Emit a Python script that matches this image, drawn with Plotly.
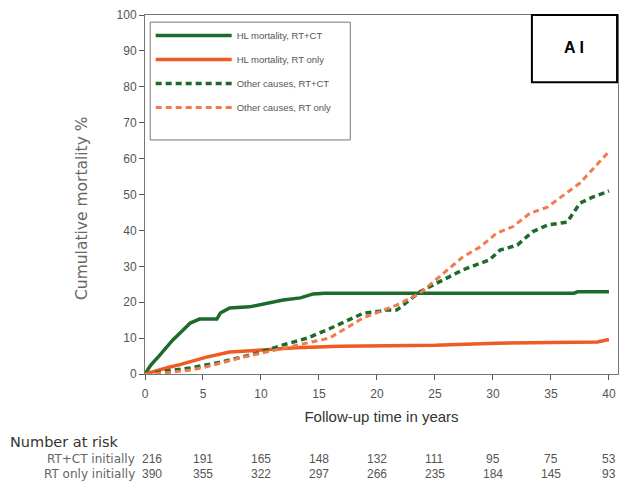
import plotly.graph_objects as go

# HL mortality, RT+CT
hl_ct_t = [0, 0.5, 1.2, 2.4, 3.2, 3.9, 4.7, 6.2, 6.5, 7.3, 9.0, 10.5, 11.9, 13.4, 14.5, 15.5, 20, 25, 30, 37.0, 37.3, 40]
hl_ct_v = [0, 2.5, 5.0, 9.5, 12.0, 14.2, 15.3, 15.3, 17.0, 18.4, 18.7, 19.8, 20.6, 21.2, 22.3, 22.5, 22.5, 22.5, 22.5, 22.5, 22.9, 22.9]
# HL mortality, RT only
hl_rt_t = [0, 1, 2, 3, 4, 5.3, 7.3, 9.7, 13, 16.8, 20, 25, 30.3, 35, 39, 40]
hl_rt_v = [0, 1.0, 1.8, 2.6, 3.5, 4.7, 6.1, 6.7, 7.3, 7.7, 7.8, 8.0, 8.6, 8.8, 8.9, 9.6]
# Other causes, RT+CT
oc_ct_t = [0, 2, 3.9, 6.7, 9.7, 11.9, 14, 15.9, 18.8, 20.9, 21.7, 23.7, 26, 27.4, 29.7, 30.6, 32.1, 33.4, 34.7, 36.4, 37.5, 38.6, 39.8, 40]
oc_ct_v = [0, 0.8, 1.7, 3.4, 5.8, 8.1, 10.0, 12.6, 16.9, 17.8, 17.8, 22.9, 26.7, 29.0, 31.8, 34.5, 35.9, 39.6, 41.5, 42.3, 47.6, 49.3, 50.7, 51.0]
# Other causes, RT only
oc_rt_t = [0, 2, 3.9, 5.3, 8.2, 11.9, 15.9, 18.8, 21.7, 23.7, 27.4, 28.9, 30.3, 31.7, 33.2, 34.7, 37.5, 39.9, 40]
oc_rt_v = [0, 0.4, 1.1, 2.0, 4.5, 7.2, 10.0, 15.6, 19.2, 22.5, 32.6, 35.4, 39.2, 41.0, 44.8, 46.5, 53.2, 61.6, 61.8]

# Number at risk
risk_t = [0, 5, 10, 15, 20, 25, 30, 35, 40]
risk_ct = [216, 191, 165, 148, 132, 111, 95, 75, 53]
risk_rt = [390, 355, 322, 297, 266, 235, 184, 145, 93]

green = "#1d6b2b"
orange = "#ef5b22"
orange_d = "#f37a4a"

fig = go.Figure()
fig.add_trace(go.Scatter(x=hl_ct_t, y=hl_ct_v, mode="lines", name="HL mortality, RT+CT",
                         line=dict(color=green, width=3.5), legendgroup="a"))
fig.add_trace(go.Scatter(x=hl_rt_t, y=hl_rt_v, mode="lines", name="HL mortality, RT only",
                         line=dict(color=orange, width=3.5), legendgroup="b"))
fig.add_trace(go.Scatter(x=oc_ct_t, y=oc_ct_v, mode="lines", name="Other causes, RT+CT",
                         line=dict(color=green, width=3.5, dash="6px,4px"), legendgroup="c"))
fig.add_trace(go.Scatter(x=oc_rt_t, y=oc_rt_v, mode="lines", name="Other causes, RT only",
                         line=dict(color=orange_d, width=3, dash="6px,4px"), legendgroup="d"))

grey = "#555555"
wide = "DejaVu Sans, Liberation Sans, sans-serif"
fig.update_layout(
    width=621, height=495,
    margin=dict(l=145, r=3, t=15, b=121),
    plot_bgcolor="white", paper_bgcolor="white",
    font=dict(family="Liberation Sans, Arial, sans-serif", color=grey),
    showlegend=True,
    legend=dict(x=0.012, y=0.983, xanchor="left", yanchor="top",
                borderwidth=0, bgcolor="rgba(0,0,0,0)",
                font=dict(size=9.5, color=grey), itemwidth=76, tracegroupgap=5),
    xaxis=dict(range=[0, 40.78], tickvals=risk_t, ticks="outside", ticklen=5, tickcolor=grey,
               showline=True, linecolor="#777777", mirror=True, showgrid=False, zeroline=False,
               tickfont=dict(size=12, color=grey), ticklabelstandoff=4,
               title=dict(text="Follow-up time in years", font=dict(size=15, color="#333333"), standoff=11)),
    yaxis=dict(range=[0, 100], dtick=10, ticks="outside", ticklen=5, tickcolor=grey,
               showline=True, linecolor="#777777", mirror=True, showgrid=False, zeroline=False,
               tickfont=dict(size=12, color=grey)),
)

# y-axis title
fig.add_annotation(xref="paper", yref="paper", x=-0.133, y=0.46, xanchor="center", yanchor="middle",
                   textangle=-90, text="Cumulative mortality %", showarrow=False,
                   font=dict(size=15.5, color="#666666", family=wide))

# legend frame
fig.add_shape(type="rect", xref="paper", yref="paper", x0=0.011, x1=0.434, y0=0.652, y1=0.98,
              line=dict(color="#777777", width=1), fillcolor="white", layer="below")

# "A I" panel box
fig.add_shape(type="rect", xref="paper", yref="paper", x0=0.818, x1=0.998, y0=0.813, y1=1.0,
              line=dict(color="black", width=2), fillcolor="white", layer="above")
fig.add_annotation(xref="paper", yref="paper", x=0.906, y=0.91, xanchor="center", yanchor="middle",
                   text="<b>A I</b>", showarrow=False, font=dict(size=16, color="black"))

# Number at risk table
fig.add_annotation(xref="paper", yref="paper", x=-0.29, y=-0.19, xanchor="left", yanchor="middle",
                   text="Number at risk", showarrow=False, font=dict(size=14.5, color="#333333", family=wide))
fig.add_annotation(xref="paper", yref="paper", x=-0.017, y=-0.238, xanchor="right", yanchor="middle",
                   text="RT+CT initially", showarrow=False, font=dict(size=12, color="#666666", family=wide))
fig.add_annotation(xref="paper", yref="paper", x=-0.017, y=-0.279, xanchor="right", yanchor="middle",
                   text="RT only initially", showarrow=False, font=dict(size=12, color="#666666", family=wide))
for i, t in enumerate(risk_t):
    xx = t + 0.6 if i == 0 else t
    fig.add_annotation(xref="x", yref="paper", x=xx, y=-0.238, xanchor="center", yanchor="middle",
                       text=str(risk_ct[i]), showarrow=False, font=dict(size=12, color=grey))
    fig.add_annotation(xref="x", yref="paper", x=xx, y=-0.279, xanchor="center", yanchor="middle",
                       text=str(risk_rt[i]), showarrow=False, font=dict(size=12, color=grey))

fig.write_html("out.html")
